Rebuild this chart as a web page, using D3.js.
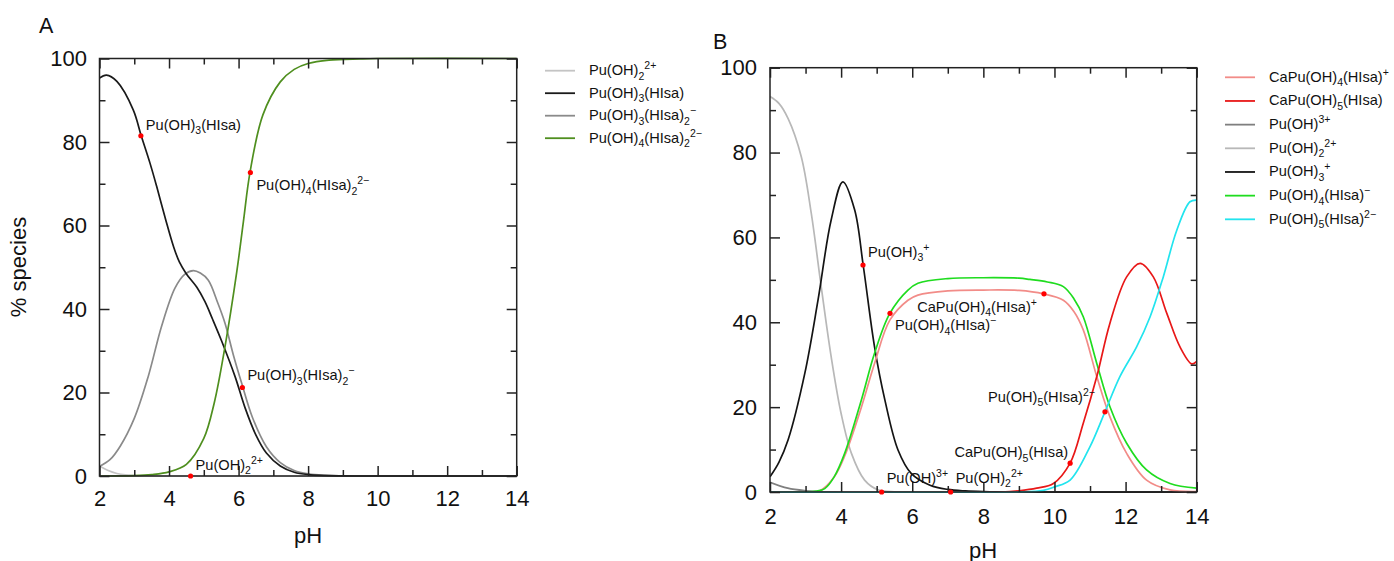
<!DOCTYPE html>
<html>
<head>
<meta charset="utf-8">
<script src="https://cdn.jsdelivr.net/npm/d3@7"></script>
<style>
  html, body { margin: 0; padding: 0; background: #fff; }
  svg { display: block; }
  text { font-family: "Liberation Sans", Arial, Helvetica, sans-serif; fill: #111; }
</style>
</head>
<body>
<svg id="chart" width="1394" height="561"></svg>
<script>
// ---------------- DATA ----------------
const xMajorTicks = [2, 4, 6, 8, 10, 12, 14];
const xMinorTicks = [3, 5, 7, 9, 11, 13];
const yMajorTicks = [0, 20, 40, 60, 80, 100];
const yMinorTicks = [10, 30, 50, 70, 90];

// Panel A  (pH, % species)
const aPuOH2 = [[2,2.4],[2.25,1.3],[2.5,0.6],[2.75,0.25],[3,0.1],[3.5,0.02],[4,0],[14,0]];
const aPuOH3HIsa = [[2,95.3],[2.2,96],[2.5,94.5],[2.97,87.7],[3.2,81.5],[3.45,75],[3.64,69.5],[3.9,61.5],[4.12,55.2],[4.3,51.2],[4.5,48.4],[4.8,45.2],[5.03,41.8],[5.25,37.6],[5.51,32.4],[5.9,23.8],[6.18,16.5],[6.5,9.8],[6.8,5.5],[7.2,2.4],[7.6,0.9],[8,0.35],[9,0.03],[10,0],[14,0]];
const aPuOH3HIsa2 = [[2,2.3],[2.3,3.9],[2.6,7.2],[3.0,13.8],[3.4,23.8],[3.79,36],[4.17,45],[4.45,48.3],[4.7,49.2],[4.9,48.6],[5.13,46.9],[5.4,41.5],[5.61,36.6],[5.85,29],[6.09,22.2],[6.4,14],[6.8,7],[7.2,3.2],[7.6,1.3],[8,0.5],[8.5,0.15],[9,0.05],[10,0],[14,0]];
const aPuOH4HIsa2 = [[2,0],[3,0.1],[3.5,0.35],[4,1],[4.5,2.8],[5,9],[5.3,17.5],[5.6,30.5],[5.95,49],[6.14,61],[6.33,72.8],[6.7,86.5],[7.2,94.4],[7.6,97.4],[8,98.8],[8.6,99.6],[9.5,99.9],[10,100],[14,100]];

// Panel B
const bCaPuOH4HIsa = [[2,0],[3,0],[3.4,0.3],[3.8,3.5],[4.1,8.5],[4.57,20],[4.94,30.3],[5.37,40.5],[5.88,45.2],[6.16,46.4],[7,47.4],[8,47.6],[9,47.5],[9.69,46.7],[10.25,45.2],[10.55,42.5],[10.81,38.2],[11.19,27.2],[11.56,17.7],[12.03,9.1],[12.59,2.8],[13.25,0.5],[14,0.1]];
const bCaPuOH5HIsa = [[2,0],[8.5,0],[9,0.3],[9.5,0.9],[9.97,2],[10.44,6.8],[10.81,16.2],[11.19,27.2],[11.56,39.8],[12.03,50.7],[12.41,53.9],[12.78,50.7],[13.16,42.1],[13.53,34.2],[13.86,30.2],[14,30.8]];
const bPuOH = [[2,2.3],[2.5,0.9],[3,0.3],[3.5,0.05],[4,0],[14,0]];
const bPuOH2 = [[2,93.2],[2.25,91.6],[2.51,88],[2.88,79],[3.16,65.7],[3.44,48.4],[3.72,31.9],[4,18.5],[4.29,9.1],[4.66,2.8],[5.04,0.5],[5.5,0.05],[6,0],[14,0]];
const bPuOH3 = [[2,3.6],[2.25,7],[2.51,12.3],[2.98,28],[3.35,45.2],[3.72,64.1],[4.05,73.1],[4.38,66.5],[4.62,53.5],[4.94,34.2],[5.23,21.7],[5.6,9.9],[5.97,4.4],[6.5,1.6],[7,0.6],[7.5,0.25],[8,0.1],[9,0],[14,0]];
const bPuOH4HIsa = [[2,0],[3,0],[3.3,0.2],[3.54,0.8],[3.8,3.5],[4.1,9.1],[4.57,21.7],[4.94,32.7],[5.37,42.1],[5.88,47.6],[6.16,49.2],[7,50.3],[8,50.5],[9,50.4],[9.31,50.1],[9.8,49.5],[10.25,48.4],[10.55,45.5],[10.81,41.3],[11.19,30.3],[11.56,20.1],[12.03,11.5],[12.59,5.2],[13.25,2],[14,0.9]];
const bPuOH5HIsa = [[2,0],[9,0],[9.69,0.4],[10,1.2],[10.44,2.8],[11,10.7],[11.42,18.9],[11.84,27.2],[12.31,34.2],[12.69,41.3],[13.06,50.7],[13.44,61.7],[13.81,68.4],[14,68.8]];

// Series names (markup: _{sub} ^{sup})
const namesA = ["Pu(OH)_{2}^{2+}", "Pu(OH)_{3}(HIsa)", "Pu(OH)_{3}(HIsa)_{2}^{−}", "Pu(OH)_{4}(HIsa)_{2}^{2−}"];
const namesB = ["CaPu(OH)_{4}(HIsa)^{+}", "CaPu(OH)_{5}(HIsa)", "Pu(OH)^{3+}", "Pu(OH)_{2}^{2+}", "Pu(OH)_{3}^{+}", "Pu(OH)_{4}(HIsa)^{−}", "Pu(OH)_{5}(HIsa)^{2−}"];

// Annotated points (pH, value) and their labels
const markA = [[3.19,81.5],[6.34,72.7],[6.11,21.2],[4.62,0]];
const markLabelsA = ["Pu(OH)_{3}(HIsa)", "Pu(OH)_{4}(HIsa)_{2}^{2−}", "Pu(OH)_{3}(HIsa)_{2}^{−}", "Pu(OH)_{2}^{2+}"];
const markB = [[4.615,53.5],[5.375,42.1],[9.705,46.7],[11.42,18.9],[10.44,6.8],[5.14,0],[7.08,0]];
const markLabelsB = ["Pu(OH)_{3}^{+}", "Pu(OH)_{4}(HIsa)^{−}", "CaPu(OH)_{4}(HIsa)^{+}", "Pu(OH)_{5}(HIsa)^{2−}", "CaPu(OH)_{5}(HIsa)", "Pu(OH)^{3+}", "Pu(OH)_{2}^{2+}"];

// ---------------- STYLE / LAYOUT ----------------
const colorsA = ["#c4c4c4", "#1a1a1a", "#8a8a8a", "#4f8f1f"];
const colorsB = ["#f28c88", "#e81818", "#7f7f7f", "#b8b8b8", "#141414", "#1fdc1f", "#22e4ee"];
const labelSize = 14.6;
// label offsets (dx, dy, anchor) relative to the marked point
const labelPosA = [[5,-6,"start"],[6,18,"start"],[5,-7,"start"],[5,-6,"start"]];
const labelPosB = [[5,-8,"start"],[5,17,"start"],[-7,18,"end"],[-10,-10,"end"],[-2,-6,"end"],[5,-9,"start"],[5,-9,"start"]];

const svg = d3.select("#chart");
svg.append("rect").attr("width",1394).attr("height",561).attr("fill","#fff");

const xA = d3.scaleLinear().domain([2,14]).range([99.5,516.7]);
const yA = d3.scaleLinear().domain([0,100]).range([476,58.5]);
const xB = d3.scaleLinear().domain([2,14]).range([770,1196.7]);
const yB = d3.scaleLinear().domain([0,100]).range([492,67.7]);

function rich(textSel, str, size) {
  const re = /(_\{[^}]*\}|\^\{[^}]*\}|[^_^]+)/g;
  const toks = str.match(re) || [];
  let shift = 0;
  toks.forEach(t => {
    let target = 0, fs = size, txt = t;
    if (t[0] === "_") { target = 0.3 * size; fs = size * 0.72; txt = t.slice(2, -1); }
    else if (t[0] === "^") { target = -0.42 * size; fs = size * 0.72; txt = t.slice(2, -1); }
    textSel.append("tspan").attr("dy", (target - shift).toFixed(2)).attr("font-size", fs).text(txt);
    shift = target;
  });
}

function frame(x, y, padX, padY) {
  const g = svg.append("g");
  const [x0, x1] = x.range(), [y0, y1] = y.range();
  const style = sel => {
    sel.select(".domain").remove();
    sel.selectAll(".tick line").attr("stroke", "#222").attr("stroke-width", 1.5);
    sel.selectAll(".tick text").attr("font-size", 22).attr("fill", "#111")
      .attr("font-family", '"Liberation Sans", Arial, Helvetica, sans-serif');
  };
  g.append("g").attr("transform", `translate(0,${y0})`)
    .call(d3.axisBottom(x).tickValues(xMajorTicks).tickSize(-10).tickSizeOuter(0).tickPadding(padX).tickFormat(d3.format("d"))).call(style);
  g.append("g").attr("transform", `translate(0,${y0})`)
    .call(d3.axisBottom(x).tickValues(xMinorTicks).tickSize(-6).tickSizeOuter(0).tickFormat("")).call(style);
  g.append("g").attr("transform", `translate(0,${y1})`)
    .call(d3.axisTop(x).tickValues(xMajorTicks).tickSize(-10).tickSizeOuter(0).tickFormat("")).call(style);
  g.append("g").attr("transform", `translate(0,${y1})`)
    .call(d3.axisTop(x).tickValues(xMinorTicks).tickSize(-6).tickSizeOuter(0).tickFormat("")).call(style);
  g.append("g").attr("transform", `translate(${x0},0)`)
    .call(d3.axisLeft(y).tickValues(yMajorTicks).tickSize(-10).tickSizeOuter(0).tickPadding(padY).tickFormat(d3.format("d"))).call(style);
  g.append("g").attr("transform", `translate(${x0},0)`)
    .call(d3.axisLeft(y).tickValues(yMinorTicks).tickSize(-6).tickSizeOuter(0).tickFormat("")).call(style);
  g.append("g").attr("transform", `translate(${x1},0)`)
    .call(d3.axisRight(y).tickValues(yMajorTicks).tickSize(-10).tickSizeOuter(0).tickFormat("")).call(style);
  g.append("g").attr("transform", `translate(${x1},0)`)
    .call(d3.axisRight(y).tickValues(yMinorTicks).tickSize(-6).tickSizeOuter(0).tickFormat("")).call(style);
  g.append("rect").attr("x", x0).attr("y", y1).attr("width", x1 - x0).attr("height", y0 - y1)
    .attr("fill", "none").attr("stroke", "#222").attr("stroke-width", 1.5);
}

let clipN = 0;
function curves(x, y, series, colors) {
  const [x0, x1] = x.range(), [y0, y1] = y.range();
  const id = "clip" + (clipN++);
  svg.append("clipPath").attr("id", id).append("rect")
    .attr("x", x0).attr("y", y1 - 2).attr("width", x1 - x0).attr("height", y0 - y1 + 3);
  const g = svg.append("g").attr("clip-path", `url(#${id})`);
  const line = d3.line().x(d => x(d[0])).y(d => y(d[1])).curve(d3.curveCatmullRom.alpha(0.5));
  series.forEach((s, i) => {
    g.append("path").datum(s).attr("d", line).attr("fill", "none")
      .attr("stroke", colors[i]).attr("stroke-width", 1.7).attr("stroke-linejoin", "round");
  });
}

function marks(x, y, pts, labels, pos) {
  pts.forEach((p, i) => {
    const px = x(p[0]), py = y(p[1]);
    const t = svg.append("text").attr("x", px + pos[i][0]).attr("y", py + pos[i][1])
      .attr("font-size", labelSize).attr("text-anchor", pos[i][2]).attr("fill", "#111");
    rich(t, labels[i], labelSize);
  });
  pts.forEach(p => {
    svg.append("circle").attr("cx", x(p[0])).attr("cy", y(p[1])).attr("r", 2.6).attr("fill", "#ff0000");
  });
}

function legend(x0, yStart, step, names, colors) {
  names.forEach((n, i) => {
    const yy = yStart + i * step;
    svg.append("line").attr("x1", x0).attr("x2", x0 + 30).attr("y1", yy).attr("y2", yy)
      .attr("stroke", colors[i]).attr("stroke-width", 1.8);
    const t = svg.append("text").attr("x", x0 + 44).attr("y", yy + 4.5).attr("font-size", labelSize);
    rich(t, n, labelSize);
  });
}

// ---------------- PANEL A ----------------
curves(xA, yA, [aPuOH2, aPuOH3HIsa2, aPuOH3HIsa, aPuOH4HIsa2], [colorsA[0], colorsA[2], colorsA[1], colorsA[3]]);
frame(xA, yA, 14, 12.5);
marks(xA, yA, markA, markLabelsA, labelPosA);
legend(545, 70.7, 22.5, namesA, colorsA);
svg.append("text").attr("x", 308).attr("y", 542.5).attr("text-anchor", "middle").attr("font-size", 22).text("pH");
svg.append("text").attr("transform", "translate(26,267) rotate(-90)").attr("text-anchor", "middle").attr("font-size", 22).text("% species");
svg.append("text").attr("x", 39).attr("y", 33).attr("font-size", 21.5).text("A");

// ---------------- PANEL B ----------------
curves(xB, yB, [bPuOH2, bPuOH, bPuOH3, bCaPuOH4HIsa, bPuOH4HIsa, bCaPuOH5HIsa, bPuOH5HIsa],
  [colorsB[3], colorsB[2], colorsB[4], colorsB[0], colorsB[5], colorsB[1], colorsB[6]]);
frame(xB, yB, 16, 13);
marks(xB, yB, markB, markLabelsB, labelPosB);
legend(1225, 77.3, 23.67, namesB, colorsB);
svg.append("text").attr("x", 983).attr("y", 557.5).attr("text-anchor", "middle").attr("font-size", 22).text("pH");
svg.append("text").attr("x", 713).attr("y", 49.3).attr("font-size", 21.5).text("B");
</script>
</body>
</html>
